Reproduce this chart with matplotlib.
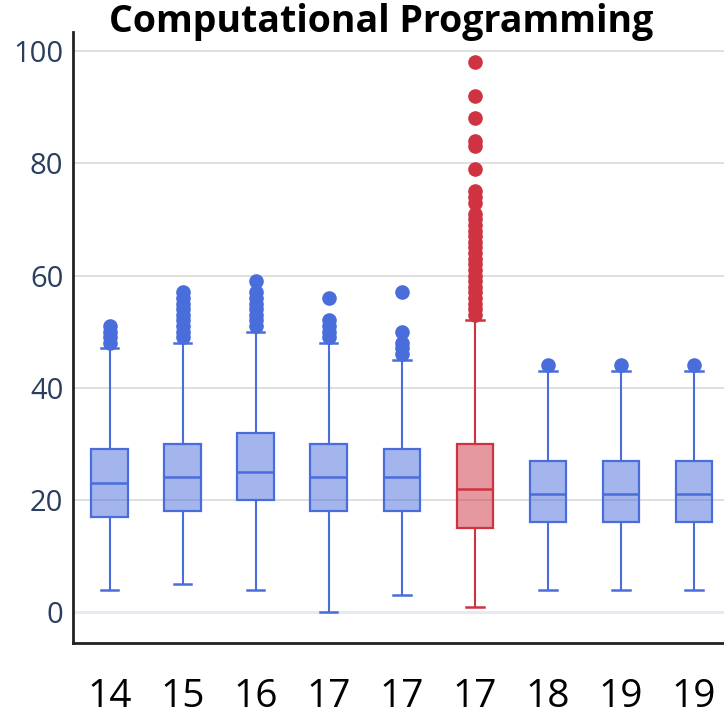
import matplotlib
matplotlib.use("Agg")
import matplotlib.pyplot as plt
from matplotlib.colors import to_rgba

plt.rcParams['font.family'] = ['Open Sans', 'DejaVu Sans']

# ---- data ----
labels = ["14", "15", "16", "17", "17", "17", "18", "19", "19"]
whislo = [4, 5, 4, 0, 3, 1, 4, 4, 4]
q1 = [17, 18, 20, 18, 18, 15, 16, 16, 16]
med = [23, 24, 25, 24, 24, 22, 21, 21, 21]
q3 = [29, 30, 32, 30, 29, 30, 27, 27, 27]
whishi = [47, 48, 50, 48, 45, 52, 43, 43, 43]
fliers = [
    [48, 49, 50, 51],
    [49, 50, 51, 52, 53, 54, 55, 56, 57],
    [51, 52, 53, 54, 55, 56, 57, 59],
    [49, 50, 51, 52, 56],
    [46, 47, 48, 50, 57],
    [53, 54, 55, 56, 57, 58, 59, 60, 61, 62, 63, 64, 65, 66, 67, 68, 69, 70, 71,
     73, 74, 75, 79, 83, 84, 88, 92, 98],
    [44],
    [44],
    [44],
]
highlight = [False, False, False, False, False, True, False, False, False]
y_ticks = [0, 20, 40, 60, 80, 100]
title = "Computational Programming"

blue = "#4a6ddc"
red = "#cf3342"

fig = plt.figure(figsize=(7.24, 7.16), dpi=100)
ax = fig.add_axes([73 / 724, 1 - 643 / 716, 1 - 73 / 724, (643 - 32) / 716])

# grid
for t in y_ticks:
    if t == 0:
        ax.axhline(t, color="#e6eaf2", lw=2.2, zorder=0)
    else:
        ax.axhline(t, color="#d9d9d9", lw=1.2, zorder=0)

for i in range(len(labels)):
    c = red if highlight[i] else blue
    stats = [dict(whislo=whislo[i], q1=q1[i], med=med[i], q3=q3[i],
                  whishi=whishi[i], fliers=fliers[i], label=labels[i])]
    ax.bxp(stats, positions=[i], widths=0.5, patch_artist=True,
           showfliers=True, manage_ticks=False,
           boxprops=dict(facecolor=to_rgba(c, 0.5), edgecolor=c, linewidth=1.6),
           medianprops=dict(color=c, linewidth=1.8),
           whiskerprops=dict(color=c, linewidth=1.5),
           capprops=dict(color=c, linewidth=1.8),
           capwidths=0.24,
           flierprops=dict(marker="o", markerfacecolor=c, markeredgecolor=c,
                           markersize=9.5, linestyle="none"))

ax.set_xlim(-0.5, 8.41)
ax.set_ylim(-5.5, 103.4)
ax.set_xticks(range(len(labels)))
ax.set_xticklabels(labels, fontsize=28, color="black")
ax.set_yticks(y_ticks)
ax.set_yticklabels([str(t) for t in y_ticks], fontsize=21, color="#2a3f5f")
ax.tick_params(axis="both", length=0)
ax.tick_params(axis="x", pad=25)
ax.tick_params(axis="y", pad=7)

for s in ["top", "right"]:
    ax.spines[s].set_visible(False)
for s in ["left", "bottom"]:
    ax.spines[s].set_color("#222222")
    ax.spines[s].set_linewidth(2)

fig.text(381 / 724, 1 - 22 / 716, title, ha="center", va="center",
         fontsize=27, fontweight="bold", color="black")

fig.savefig("out.png", dpi=100)
